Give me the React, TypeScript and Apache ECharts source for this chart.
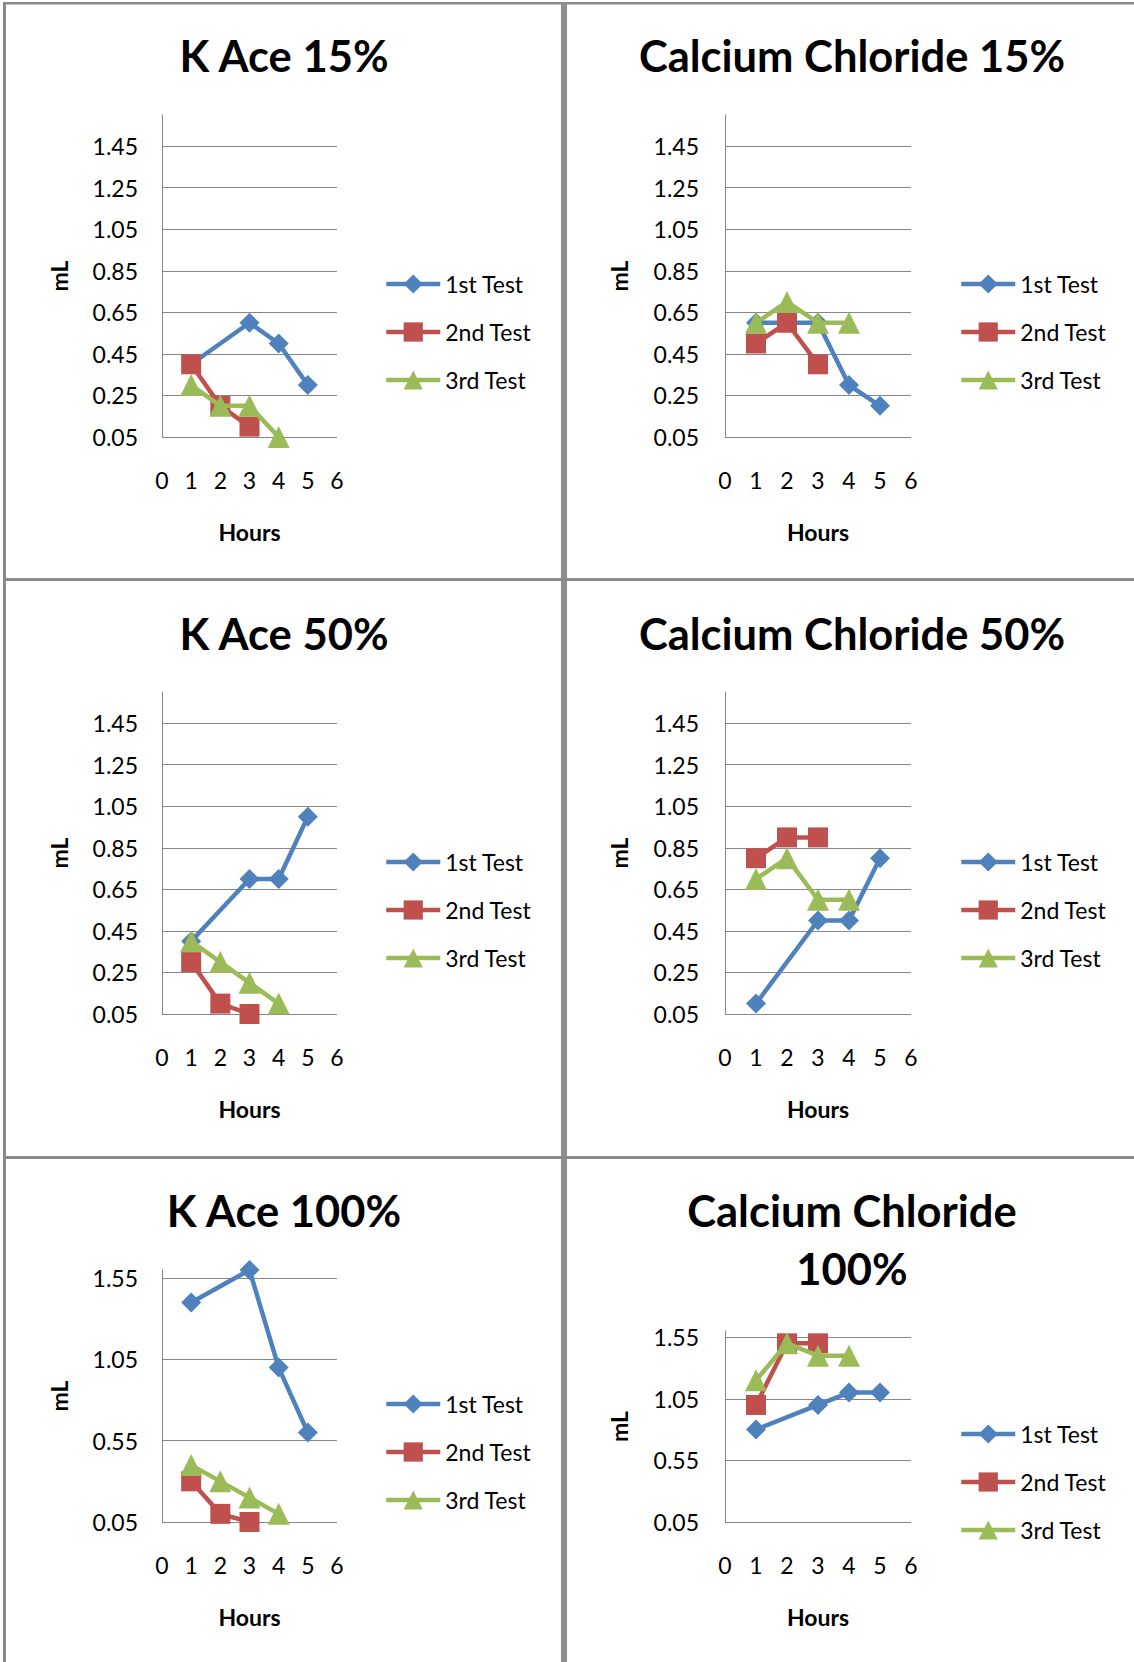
import React, { useEffect, useRef } from 'react';
import * as echarts from 'echarts';

// ---------- data ----------
const seriesNames = ['1st Test', '2nd Test', '3rd Test'];
const test1Hours = [1, 3, 4, 5];
const test2Hours = [1, 2, 3];
const test3Hours = [1, 2, 3, 4];

const panelTitles = [
  'K Ace 15%',
  'Calcium Chloride 15%',
  'K Ace 50%',
  'Calcium Chloride 50%',
  'K Ace 100%',
  'Calcium Chloride\n100%',
];

const kAce15Test1 = [0.4, 0.6, 0.5, 0.3];
const kAce15Test2 = [0.4, 0.2, 0.1];
const kAce15Test3 = [0.3, 0.2, 0.2, 0.05];

const calcium15Test1 = [0.6, 0.6, 0.3, 0.2];
const calcium15Test2 = [0.5, 0.6, 0.4];
const calcium15Test3 = [0.6, 0.7, 0.6, 0.6];

const kAce50Test1 = [0.4, 0.7, 0.7, 1.0];
const kAce50Test2 = [0.3, 0.1, 0.05];
const kAce50Test3 = [0.4, 0.3, 0.2, 0.1];

const calcium50Test1 = [0.1, 0.5, 0.5, 0.8];
const calcium50Test2 = [0.8, 0.9, 0.9];
const calcium50Test3 = [0.7, 0.8, 0.6, 0.6];

const kAce100Test1 = [1.4, 1.6, 1.0, 0.6];
const kAce100Test2 = [0.3, 0.1, 0.05];
const kAce100Test3 = [0.4, 0.3, 0.2, 0.1];

const calcium100Test1 = [0.8, 1.0, 1.1, 1.1];
const calcium100Test2 = [1.0, 1.5, 1.5];
const calcium100Test3 = [1.2, 1.5, 1.4, 1.4];

const panelValues = [
  [kAce15Test1, kAce15Test2, kAce15Test3],
  [calcium15Test1, calcium15Test2, calcium15Test3],
  [kAce50Test1, kAce50Test2, kAce50Test3],
  [calcium50Test1, calcium50Test2, calcium50Test3],
  [kAce100Test1, kAce100Test2, kAce100Test3],
  [calcium100Test1, calcium100Test2, calcium100Test3],
];
const testHours = [test1Hours, test2Hours, test3Hours];

const yMin = 0.05;
const yMax = 1.6;
const yStepFine = 0.2;
const yStepCoarse = 0.5;
const panelYSteps = [yStepFine, yStepFine, yStepFine, yStepFine, yStepCoarse, yStepCoarse];
const xMin = 0;
const xMax = 6;
const xStep = 1;
const xName = 'Hours';
const yName = 'mL';

// ---------- styling / layout ----------
const W = 1134;
const H = 1662;
const COLORS = ['#4F81BD', '#C0504D', '#9BBB59'];
const SYMBOLS = ['diamond', 'rect', 'triangle'];
const SYMBOL_SIZES = [20, 20, 22];
const LINE_W = 4.5;
const GRAY = '#878787';
const FONT = 'Lato';

const leftCol = { gridLeft: 162, gridWidth: 175, titleX: 284, legendLeft: 384, labelMargin: 24, nameGap: 92 };
const rightCol = { gridLeft: 725, gridWidth: 186, titleX: 852, legendLeft: 959, labelMargin: 26, nameGap: 95 };

const layouts = [
  { col: leftCol, gridTop: 115, gridHeight: 322, titleY: 55, titleLH: 50, legendTop: 272 },
  { col: rightCol, gridTop: 115, gridHeight: 322, titleY: 55, titleLH: 50, legendTop: 272 },
  { col: leftCol, gridTop: 692, gridHeight: 322, titleY: 633, titleLH: 50, legendTop: 850 },
  { col: rightCol, gridTop: 692, gridHeight: 322, titleY: 633, titleLH: 50, legendTop: 850 },
  { col: leftCol, gridTop: 1270, gridHeight: 252, titleY: 1210, titleLH: 50, legendTop: 1392 },
  { col: rightCol, gridTop: 1331, gridHeight: 191, titleY: 1210, titleLH: 58, legendTop: 1422 },
];

export default function App() {
  const ref = useRef<HTMLDivElement>(null);

  useEffect(() => {
    document.body.style.margin = '0';
    const chart = echarts.init(ref.current as HTMLDivElement, null, {
      renderer: 'svg',
      width: W,
      height: H,
    });

    const labelStyle = { fontSize: 23, fontFamily: FONT, color: '#000' };
    const nameStyle = { fontSize: 23, fontFamily: FONT, color: '#000', fontWeight: 'bold' as const };

    const option: any = {
      animation: false,
      backgroundColor: '#ffffff',
      title: layouts.map((l, i) => ({
        text: panelTitles[i],
        left: l.col.titleX,
        top: l.titleY - l.titleLH / 2,
        textAlign: 'center',
        padding: 0,
        textStyle: {
          fontSize: 43.5,
          fontWeight: 'bold',
          fontFamily: FONT,
          color: '#000',
          lineHeight: l.titleLH,
        },
      })),
      legend: layouts.map((l) => ({
        data: seriesNames,
        orient: 'vertical',
        left: l.col.legendLeft,
        top: l.legendTop,
        padding: 0,
        itemWidth: 54,
        itemHeight: 24,
        itemGap: 24,
        selectedMode: false,
        lineStyle: { width: LINE_W },
        textStyle: { ...labelStyle, lineHeight: 24 },
      })),
      grid: layouts.map((l) => ({
        left: l.col.gridLeft,
        top: l.gridTop,
        width: l.col.gridWidth,
        height: l.gridHeight,
        containLabel: false,
        outerBoundsMode: 'none',
      })),
      xAxis: layouts.map((l, i) => ({
        gridIndex: i,
        type: 'value',
        min: xMin,
        max: xMax,
        interval: xStep,
        axisLine: { show: false },
        axisTick: { show: false },
        splitLine: { show: false },
        axisLabel: { ...labelStyle, margin: 31 },
        name: xName,
        nameLocation: 'middle',
        nameGap: 83,
        nameTextStyle: nameStyle,
      })),
      yAxis: layouts.map((l, i) => ({
        gridIndex: i,
        type: 'value',
        min: yMin,
        max: yMax,
        interval: panelYSteps[i],
        axisLine: { show: true, lineStyle: { color: GRAY, width: 1 } },
        axisTick: { show: false },
        splitLine: { show: true, showMaxLine: false, lineStyle: { color: GRAY, width: 1 } },
        axisLabel: {
          ...labelStyle,
          margin: l.col.labelMargin,
          showMaxLabel: false,
          formatter: (v: number) => v.toFixed(2),
        },
        name: yName,
        nameLocation: 'middle',
        nameRotate: 90,
        nameGap: l.col.nameGap,
        nameTextStyle: nameStyle,
      })),
      series: layouts.flatMap((l, i) =>
        seriesNames.map((name, k) => ({
          type: 'line',
          name,
          xAxisIndex: i,
          yAxisIndex: i,
          data: testHours[k].map((h, j) => [h, panelValues[i][k][j]]),
          symbol: SYMBOLS[k],
          symbolSize: SYMBOL_SIZES[k],
          showSymbol: true,
          lineStyle: { color: COLORS[k], width: LINE_W },
          itemStyle: { color: COLORS[k], opacity: 1 },
          emphasis: { disabled: true },
          z: 2 + k,
        }))
      ),
      graphic: [
        { type: 'rect', shape: { x: 3, y: 2, width: W, height: 2.5 }, style: { fill: '#8a8a8a' } },
        { type: 'rect', shape: { x: 3, y: 2, width: 3, height: H }, style: { fill: '#8a8a8a' } },
        { type: 'rect', shape: { x: 561, y: 2, width: 6, height: H }, style: { fill: '#8f8f8f' } },
        { type: 'rect', shape: { x: 3, y: 578, width: W, height: 3 }, style: { fill: '#8a8a8a' } },
        { type: 'rect', shape: { x: 3, y: 1156, width: W, height: 3 }, style: { fill: '#8a8a8a' } },
      ],
    };

    chart.setOption(option);
    return () => chart.dispose();
  }, []);

  return (
    <div
      ref={ref}
      style={{ position: 'absolute', left: 0, top: 0, width: W, height: H, background: '#fff' }}
    />
  );
}
